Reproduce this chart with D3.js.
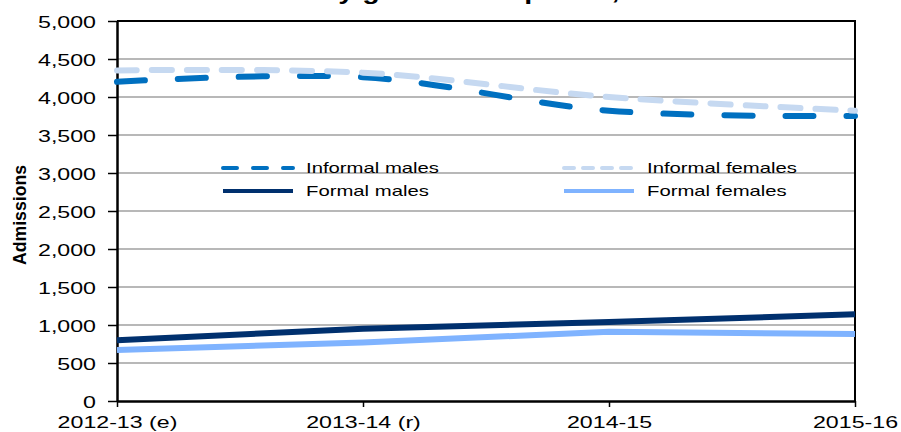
<!DOCTYPE html>
<html>
<head>
<meta charset="utf-8">
<script src="https://cdn.jsdelivr.net/npm/d3@7.9.0/dist/d3.min.js"></script>
<style>
  body { margin: 0; background: #fff; }
  svg { display: block; font-family: "Liberation Sans", Arial, sans-serif; }
</style>
</head>
<body>
<svg width="901" height="432"></svg>
<script>
// data
const periods = ['2012-13 (e)', '2013-14 (r)', '2014-15', '2015-16'];
const informalMales = [4200, 4260, 3820, 3750];
const informalFemales = [4350, 4320, 4000, 3820];
const formalMales = [800, 950, 1040, 1140];
const formalFemales = [670, 770, 910, 880];
const yTicks = d3.range(0, 5001, 500);

const series = [
  { name: 'Informal males', values: informalMales, color: '#0070c0', dash: '28 33', legendDash: '14 16', width: 6, smooth: true },
  { name: 'Informal females', values: informalFemales, color: '#c6d9f1', dash: '20 15', legendDash: '10 9', width: 6, smooth: true },
  { name: 'Formal males', values: formalMales, color: '#00306e', dash: null, width: 6, smooth: false },
  { name: 'Formal females', values: formalFemales, color: '#7fb3ff', dash: null, width: 6, smooth: false }
];

const stretch = 1.45; // the original picture is wider than tall

const svg = d3.select('svg');
const plotLeft = 117, plotRight = 855, plotTop = 21, plotBottom = 401;

const x = d3.scalePoint().domain(periods).range([plotLeft, plotRight]);
const y = d3.scaleLinear().domain([0, 5000]).range([plotBottom, plotTop]);

// title, mostly cut off at the top
svg.append('text')
  .attr('transform', `translate(151,-1) scale(1.33,1)`)
  .attr('font-size', 21.5)
  .attr('font-weight', 'bold')
  .text('Admissions by gender and period, 2012-13 to 2015-16');

// gridlines
svg.append('g')
  .selectAll('line')
  .data(yTicks.filter(d => d > 0 && d < 5000))
  .join('line')
  .attr('x1', plotLeft).attr('x2', plotRight)
  .attr('y1', d => y(d)).attr('y2', d => y(d))
  .attr('stroke', '#a0a0a0')
  .attr('stroke-width', 1.5);

// frame top and right
svg.append('path')
  .attr('d', `M${plotLeft},${plotTop}H${plotRight}V${plotBottom}`)
  .attr('fill', 'none')
  .attr('stroke', '#000')
  .attr('stroke-width', 2);

// y axis
const yAxis = svg.append('g')
  .attr('transform', `translate(${plotLeft},0)`)
  .call(d3.axisLeft(y).tickValues(yTicks).tickSize(9).tickSizeOuter(0).tickFormat(d3.format(',')));
yAxis.select('.domain').attr('stroke-width', 2.5);
yAxis.selectAll('.tick line').attr('stroke-width', 1.5);
yAxis.selectAll('text')
  .attr('x', null)
  .attr('transform', `translate(-21,1) scale(${stretch},1)`)
  .attr('font-size', 16)
  .attr('fill', '#000');

// x axis
const xAxis = svg.append('g')
  .attr('transform', `translate(0,${plotBottom})`)
  .call(d3.axisBottom(x).tickSize(6).tickSizeOuter(0));
xAxis.select('.domain').attr('stroke-width', 2.5);
xAxis.selectAll('.tick line').attr('stroke-width', 1.5);
xAxis.selectAll('text')
  .attr('y', null).attr('dy', null)
  .attr('transform', `translate(0,27) scale(${stretch},1)`)
  .attr('font-size', 16)
  .attr('fill', '#000');

// y axis title
svg.append('text')
  .attr('transform', `translate(26,215) rotate(-90) scale(1.22,1.33)`)
  .attr('text-anchor', 'middle')
  .attr('font-size', 14.5)
  .attr('font-weight', 'bold')
  .text('Admissions');

// lines
series.forEach(s => {
  const line = d3.line()
    .x((d, i) => x(periods[i]))
    .y(d => y(d))
    .curve(s.smooth ? d3.curveCatmullRom.alpha(0.5) : d3.curveLinear);
  svg.append('path')
    .datum(s.values)
    .attr('d', line)
    .attr('fill', 'none')
    .attr('stroke', s.color)
    .attr('stroke-width', s.width)
    .attr('stroke-linecap', s.dash ? 'round' : 'butt')
    .attr('stroke-dasharray', s.dash);
});

// legend, two columns
const legendPos = [[220, 168], [561, 168], [220, 191], [561, 191]];
series.forEach((s, i) => {
  const [lx, ly] = legendPos[i];
  svg.append('line')
    .attr('x1', lx + 3).attr('x2', lx + 73)
    .attr('y1', ly).attr('y2', ly)
    .attr('stroke', s.color)
    .attr('stroke-width', 4)
    .attr('stroke-linecap', s.dash ? 'round' : 'butt')
    .attr('stroke-dasharray', s.legendDash || null);
  svg.append('text')
    .attr('transform', `translate(${lx + 86},${ly + 5}) scale(${stretch},1)`)
    .attr('font-size', 14)
    .text(s.name);
});
</script>
</body>
</html>
